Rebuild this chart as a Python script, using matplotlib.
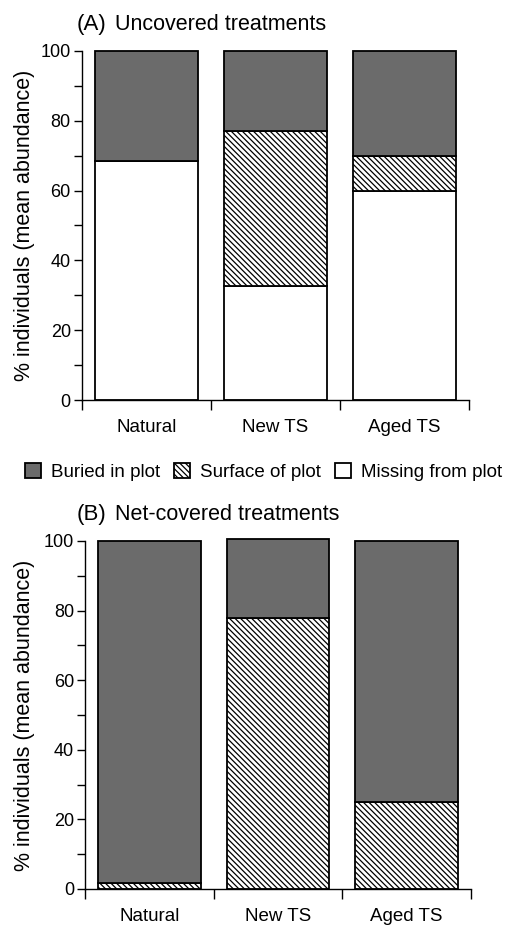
import matplotlib
matplotlib.use("Agg")
import matplotlib.pyplot as plt
from matplotlib.patches import Patch
import numpy as np

plt.rcParams['font.family'] = ['Liberation Sans', 'DejaVu Sans']
plt.rcParams['hatch.linewidth'] = 0.9

categories = ["Natural", "New TS", "Aged TS"]
series_names = ["Buried in plot", "Surface of plot", "Missing from plot"]

# Panel A: uncovered treatments
a_missing = [68.5, 32.7, 60.0]
a_surface = [0.0, 44.5, 10.0]
a_buried = [31.5, 22.8, 30.0]

# Panel B: net-covered treatments
b_missing = [0.0, 0.0, 0.0]
b_surface = [1.6, 78.0, 25.0]
b_buried = [98.4, 22.5, 75.0]

yticks = [0, 20, 40, 60, 80, 100]

buried_color = "#6b6b6b"
edge = "black"
HATCH = "\\" * 6

fig = plt.figure(figsize=(5.14, 9.27), dpi=100)
axA = fig.add_axes([0.1595, 0.5685, 0.753, 0.3765])
axB = fig.add_axes([0.1654, 0.041, 0.7510, 0.3754])


def draw(ax, missing, surface, buried, title, tx, ylx):
    x = np.arange(len(categories))
    missing = np.array(missing)
    surface = np.array(surface)
    buried = np.array(buried)
    ax.bar(x, missing, width=0.8, color="white", edgecolor=edge, linewidth=1.3, clip_on=False)
    ax.bar(x, surface, bottom=missing, width=0.8, color="white", edgecolor=edge,
           hatch=HATCH, linewidth=1.3, clip_on=False)
    ax.bar(x, buried, bottom=missing + surface, width=0.8, color=buried_color,
           edgecolor=edge, linewidth=1.3, clip_on=False)
    ax.set_xlim(-0.5, 2.5)
    ax.set_ylim(0, 100)
    ax.spines['top'].set_visible(False)
    ax.spines['right'].set_visible(False)
    ax.spines['left'].set_linewidth(1.0)
    ax.spines['bottom'].set_linewidth(1.0)
    ax.set_yticks(yticks)
    ax.set_yticks([10, 30, 50, 70, 90], minor=True)
    ax.tick_params(axis='y', which='major', length=6, width=1.0, labelsize=13, pad=2)
    ax.tick_params(axis='y', which='minor', length=6, width=1.0)
    ax.set_xticks([-0.5, 0.5, 1.5, 2.5])
    ax.set_xticklabels([])
    ax.set_xticks(x, minor=True)
    ax.set_xticklabels(categories, minor=True)
    ax.tick_params(axis='x', which='major', length=7, width=1.0)
    ax.tick_params(axis='x', which='minor', length=0, labelsize=13.5, pad=14)
    ax.set_ylabel("% individuals (mean abundance)", fontsize=15.5)
    ax.yaxis.set_label_coords(ylx, 0.5)
    ax.text(tx[0], 1.045, title[0], transform=ax.transAxes, fontsize=16, va='bottom', ha='left')
    ax.text(tx[1], 1.045, title[1], transform=ax.transAxes, fontsize=15.5, va='bottom', ha='left')


draw(axA, a_missing, a_surface, a_buried, ("(A)", "Uncovered treatments"), (-0.013, 0.085), -0.121)
draw(axB, b_missing, b_surface, b_buried, ("(B)", "Net-covered treatments"), (-0.021, 0.078), -0.13)

handles = [
    Patch(facecolor=buried_color, edgecolor=edge, linewidth=1.3, label=series_names[0]),
    Patch(facecolor="white", edgecolor=edge, hatch=HATCH, linewidth=1.3, label=series_names[1]),
    Patch(facecolor="white", edgecolor=edge, linewidth=1.3, label=series_names[2]),
]
fig.legend(handles=handles, loc='center', bbox_to_anchor=(0.513, 1 - 472 / 927), ncol=3,
           frameon=False, fontsize=13.5, handlelength=0.85, handleheight=0.85,
           handletextpad=0.53, columnspacing=0.75, borderaxespad=0)

fig.savefig("out.png", dpi=100)
